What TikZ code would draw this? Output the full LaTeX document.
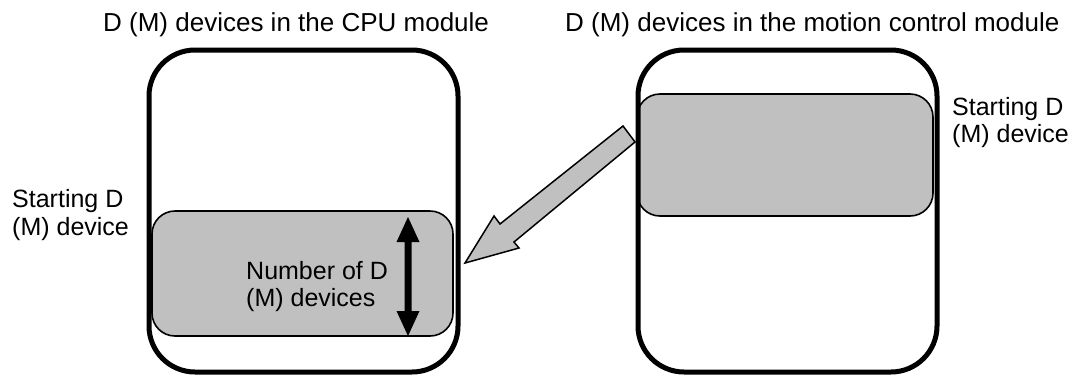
\documentclass[tikz,border=0pt]{standalone}
\usepackage{fontspec}
\setmainfont{Liberation Sans}
\definecolor{boxgray}{HTML}{C0C0C0}
\begin{document}
\begin{tikzpicture}[x=1pt,y=-1pt,
  outerbox/.style={draw=black, line width=5pt, rounded corners=46pt, minimum width=#1, minimum height=322pt, inner sep=0pt},
  graybox/.style={draw=black, fill=boxgray, line width=1.6pt, rounded corners=23pt, inner sep=0pt},
  title/.style={font=\fontsize{26}{30}\selectfont, inner sep=0pt, anchor=base west},
  lbl/.style={font=\fontsize{25}{28}\selectfont, inner sep=0pt, anchor=base west},
  blockarrow/.style={draw=black, fill=boxgray, line width=1.5pt, line join=miter}]
\useasboundingbox (0,0) rectangle (1078,381);
% titles
\node[title] (tL) at (103,31) {D (M) devices in the CPU module};
\node[title] (tR) at (565,31) {D (M) devices in the motion control module};
% gray regions
\node[graybox, minimum width=301pt, minimum height=125pt] (gL) at (302.5,273.5) {};
\node[graybox, minimum width=296pt, minimum height=122pt] (gR) at (785,155) {};
% outer modules
\node[outerbox=309pt] (mL) at (303.5,211) {};
\node[outerbox=299pt] (mR) at (787.5,211) {};
% block arrow from right region to left module
\coordinate (t1) at (623,126);
\coordinate (t2) at (635,142);
\coordinate (i1) at (500,224);
\coordinate (i2) at (514,242);
\coordinate (b1) at (494,216);
\coordinate (b2) at (519,248);
\coordinate (tip) at (465,263);
\draw[blockarrow] (t1) -- (i1) -- (b1) -- (tip) -- (b2) -- (i2) -- (t2) -- cycle;
% double arrow (number of devices)
\coordinate (dTop) at (408,217);
\coordinate (dBot) at (408,336);
\fill[black] (dTop) -- ++(11.5,25) -- ++(-8,0) -- ++(0,69) -- ++(8,0) -- (dBot)
  -- ++(-11.5,-25) -- ++(8,0) -- ++(0,-69) -- ++(-8,0) -- cycle;
% labels
\node[lbl] (sL1) at (12,207) {Starting D};
\node[lbl] (sL2) at (12,235) {(M) device};
\node[lbl] (sR1) at (952,115) {Starting D};
\node[lbl] (sR2) at (952,142) {(M) device};
\node[lbl] (n1) at (246,279) {Number of D};
\node[lbl] (n2) at (246,306) {(M) devices};
\end{tikzpicture}
\end{document}
